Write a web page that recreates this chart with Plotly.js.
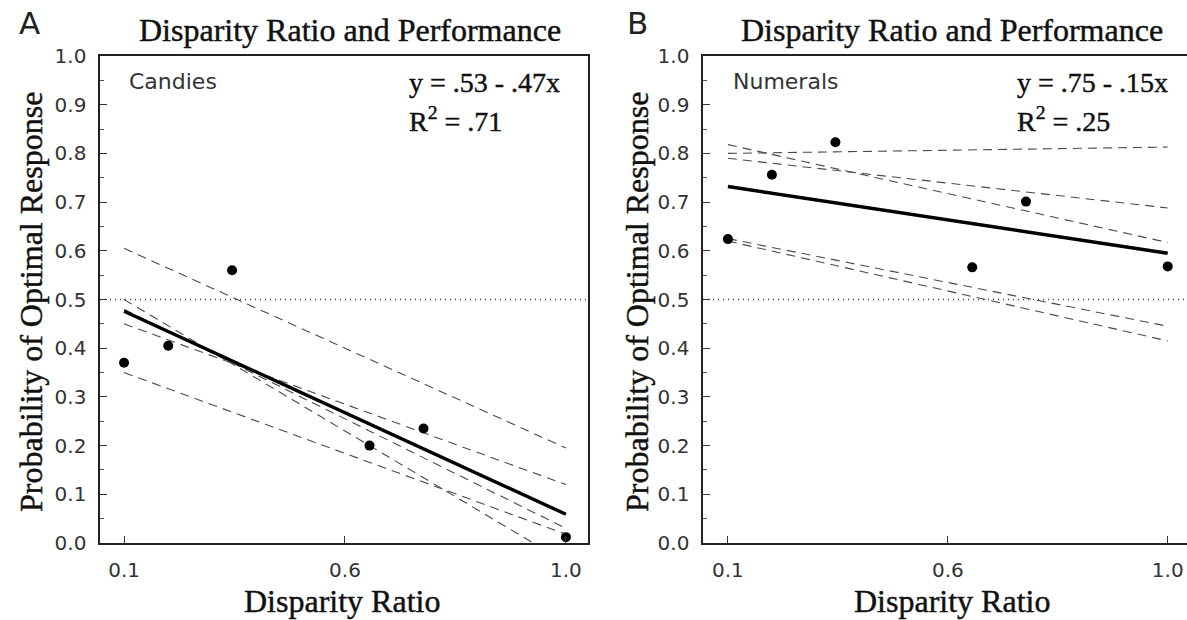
<!DOCTYPE html>
<html>
<head>
<meta charset="utf-8">
<script src="https://cdn.plot.ly/plotly-3.0.1.min.js"></script>
<style>
  html, body { margin: 0; padding: 0; background: #fff; }
  #chart { width: 1187px; height: 620px; }
  #chart .annotation-text.serif-heavy { stroke: #111; stroke-width: 0.45px; }
</style>
</head>
<body>
<div id="chart"></div>
<script>
// ---- data ----
const disparity = [0.1, 0.19, 0.32, 0.6, 0.71, 1.0];
const candiesObs = [0.37, 0.405, 0.56, 0.20, 0.235, 0.012];
const numeralsObs = [0.624, 0.756, 0.823, 0.566, 0.701, 0.568];
const fitX = [0.1, 1.0];
const candiesFit = [0.476, 0.059];
const numeralsFit = [0.732, 0.595];
const candiesDashed = [[0.605, 0.195], [0.50, -0.04], [0.45, 0.12], [0.48, 0.03], [0.35, 0.018]];
const numeralsDashed = [[0.80, 0.813], [0.79, 0.688], [0.818, 0.617], [0.625, 0.445], [0.62, 0.415]];
const chance = 0.5;
const xTickVals = [0.1, 0.55, 1.0];
const xTickText = ['0.1', '0.6', '1.0'];
const yTickVals = [0, 0.1, 0.2, 0.3, 0.4, 0.5, 0.6, 0.7, 0.8, 0.9, 1.0];
const yTickText = ['0.0', '0.1', '0.2', '0.3', '0.4', '0.5', '0.6', '0.7', '0.8', '0.9', '1.0'];
const yMinorVals = [0.05, 0.15, 0.25, 0.35, 0.45, 0.55, 0.65, 0.75, 0.85, 0.95];
const panelTitle = 'Disparity Ratio and Performance';
const xTitle = 'Disparity Ratio';
const yTitle = 'Probability of Optimal Response';
const panels = [
  {letter: 'A', label: 'Candies', eq: 'y = .53 - .47x', r2: 'R<sup>2</sup> = .71'},
  {letter: 'B', label: 'Numerals', eq: 'y = .75 - .15x', r2: 'R<sup>2</sup> = .25'}
];

// ---- layout helpers (pixel -> paper) ----
const W = 1187, H = 620, MT = 56, MB = 77;
const px = x => x / W;
const py = y => (H - MB - y) / (H - MT - MB);

const traces = [];
function addPanel(xa, ya, obs, fit, dashed) {
  dashed.forEach(d => traces.push({
    x: fitX, y: d, xaxis: xa, yaxis: ya, type: 'scatter', mode: 'lines',
    line: {color: '#4a4a4a', width: 1.1, dash: '9px,6px'}, hoverinfo: 'skip', showlegend: false
  }));
  traces.push({
    x: fitX, y: fit, xaxis: xa, yaxis: ya, type: 'scatter', mode: 'lines',
    line: {color: '#000', width: 3.4}, showlegend: false
  });
  traces.push({
    x: disparity, y: obs, xaxis: xa, yaxis: ya, type: 'scatter', mode: 'markers',
    marker: {color: '#000', size: 10}, showlegend: false, cliponaxis: false
  });
}
addPanel('x', 'y', candiesObs, candiesFit, candiesDashed);
addPanel('x2', 'y2', numeralsObs, numeralsFit, numeralsDashed);

const tickFont = {family: 'DejaVu Sans', size: 20, color: '#333'};
function xAxis(domain, range, anchor) {
  return {
    domain: domain, range: range, anchor: anchor,
    tickvals: xTickVals, ticktext: xTickText,
    ticks: 'inside', ticklen: 7, tickwidth: 1, tickcolor: '#333',
    showline: true, linecolor: '#222', linewidth: 1.6, mirror: true,
    showgrid: false, zeroline: false, tickfont: tickFont,
    ticklabelstandoff: 8, automargin: false, fixedrange: true
  };
}
function yAxis(anchor, mirror) {
  return {
    domain: [0, 1], range: [0, 1.0], anchor: anchor,
    tickvals: yTickVals, ticktext: yTickText,
    ticks: 'inside', ticklen: 7, tickwidth: 1, tickcolor: '#333',
    minor: {tickvals: yMinorVals, ticks: 'inside', ticklen: 4, tickcolor: '#555', tickwidth: 1},
    showline: true, linecolor: '#222', linewidth: 1.6, mirror: mirror,
    showgrid: false, zeroline: false, tickfont: tickFont,
    ticklabelstandoff: 8, automargin: false, fixedrange: true
  };
}

const serif = 'Liberation Serif, Times New Roman, serif';
const annotations = [];
const panelPos = [
  {letterX: 29, titleX: 350, xTitleX: 342, yTitleX: 31, labelX: 127, eqX: 407},
  {letterX: 637, titleX: 952, xTitleX: 952, yTitleX: 637, labelX: 731, eqX: 1015}
];
panels.forEach((p, i) => {
  const q = panelPos[i];
  const base = {xref: 'paper', yref: 'paper', showarrow: false};
  annotations.push(Object.assign({}, base, {x: px(q.letterX), y: py(23), text: p.letter,
    font: {family: 'DejaVu Sans', size: 31, color: '#222'}, xanchor: 'center', yanchor: 'middle'}));
  annotations.push(Object.assign({}, base, {x: px(q.titleX), y: py(30), text: panelTitle, serif: true,
    font: {family: serif, size: 32, color: '#111'}, xanchor: 'center', yanchor: 'middle'}));
  annotations.push(Object.assign({}, base, {x: px(q.xTitleX), y: py(601), text: xTitle, serif: true,
    font: {family: serif, size: 32, color: '#111'}, xanchor: 'center', yanchor: 'middle'}));
  annotations.push(Object.assign({}, base, {x: px(q.yTitleX), y: py(302), text: yTitle, textangle: -90, serif: true,
    font: {family: serif, size: 32, color: '#111'}, xanchor: 'center', yanchor: 'middle'}));
  annotations.push(Object.assign({}, base, {x: px(q.labelX), y: py(81), text: p.label,
    font: {family: 'DejaVu Sans', size: 22, color: '#333'}, xanchor: 'left', yanchor: 'middle'}));
  annotations.push(Object.assign({}, base, {x: px(q.eqX), y: py(82), text: p.eq, serif: true,
    font: {family: serif, size: 28, color: '#111'}, xanchor: 'left', yanchor: 'middle'}));
  annotations.push(Object.assign({}, base, {x: px(q.eqX), y: py(120), text: p.r2, serif: true,
    font: {family: serif, size: 28, color: '#111'}, xanchor: 'left', yanchor: 'middle'}));
});
// mark which annotations are serif (for a slightly heavier stroke), then strip the helper flag
const serifIdx = annotations.map((a, i) => a.serif ? i : -1).filter(i => i >= 0);
annotations.forEach(a => delete a.serif);

const shapes = [
  {type: 'line', xref: 'x domain', yref: 'y', x0: 0, x1: 1, y0: chance, y1: chance,
   line: {color: '#444', width: 1.3, dash: '1px,4px'}},
  {type: 'line', xref: 'x2 domain', yref: 'y2', x0: 0, x1: 1, y0: chance, y1: chance,
   line: {color: '#444', width: 1.3, dash: '1px,4px'}}
];

const layout = {
  width: W, height: H,
  margin: {l: 0, r: 0, t: MT, b: MB, pad: 0},
  paper_bgcolor: '#fff', plot_bgcolor: '#fff',
  showlegend: false,
  xaxis: xAxis([100 / W, 588 / W], [0.051, 1.045], 'y'),
  yaxis: yAxis('x', true),
  xaxis2: xAxis([703 / W, 1], [0.049, 1.0395], 'y2'),
  yaxis2: yAxis('x2', false),
  annotations: annotations,
  shapes: shapes
};

Plotly.newPlot('chart', traces, layout, {displayModeBar: false, staticPlot: true}).then(gd => {
  const nodes = gd.querySelectorAll('.annotation');
  serifIdx.forEach(i => {
    const t = nodes[i] && nodes[i].querySelector('.annotation-text');
    if (t) t.classList.add('serif-heavy');
  });
});
</script>
</body>
</html>
